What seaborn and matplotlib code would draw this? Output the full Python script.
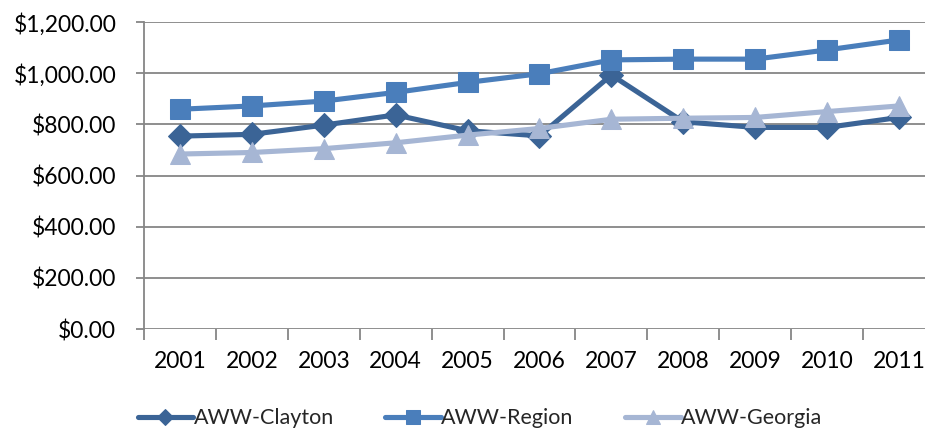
import matplotlib
matplotlib.use("Agg")
import matplotlib.pyplot as plt
import seaborn as sns
import pandas as pd
from matplotlib.ticker import FuncFormatter, FixedLocator

years = ["2001", "2002", "2003", "2004", "2005", "2006",
         "2007", "2008", "2009", "2010", "2011"]
aww_clayton = [754, 761, 797, 837, 775, 755, 993, 810, 788, 788, 827]
aww_region = [859, 872, 891, 925, 964, 998, 1052, 1055, 1055, 1091, 1130]
aww_georgia = [684, 690, 705, 728, 758, 784, 820, 824, 827, 850, 872]

series_names = ["AWW-Clayton", "AWW-Region", "AWW-Georgia"]
series_values = [aww_clayton, aww_region, aww_georgia]

rows = []
for name, vals in zip(series_names, series_values):
    for i, v in enumerate(vals):
        rows.append({"pos": i, "value": v, "series": name})
df = pd.DataFrame(rows)

sns.set_theme(style="white")
plt.rcParams["font.family"] = ["Lato", "DejaVu Sans"]

palette = {"AWW-Clayton": "#3B6496", "AWW-Region": "#4A7EBB", "AWW-Georgia": "#A6B6D4"}
markers = {"AWW-Clayton": "D", "AWW-Region": "s", "AWW-Georgia": "^"}
sizes = {"AWW-Clayton": 12.5, "AWW-Region": 14.5, "AWW-Georgia": 15}

fig = plt.figure(figsize=(9.25, 4.32), dpi=100)
ax = fig.add_axes([0.1557, 0.2384, 0.855, 0.7106])

for name in series_names:
    sub = df[df["series"] == name]
    sns.lineplot(data=sub, x="pos", y="value", ax=ax, color=palette[name],
                 marker=markers[name], markersize=sizes[name],
                 markeredgecolor=palette[name], linewidth=3.7,
                 label=name, legend=False)

ax.set_xlim(-0.5, 10.5)
ax.set_ylim(0, 1200)
ax.set_yticks(range(0, 1201, 200))
ax.yaxis.set_major_formatter(FuncFormatter(lambda v, p: f"${v:,.2f}"))
ax.set_xticks(range(len(years)))
ax.set_xticklabels(years)
ax.xaxis.set_minor_locator(FixedLocator([i - 0.5 for i in range(len(years) + 1)]))

ax.grid(axis="y", color="#868686", linewidth=1.3)
ax.set_axisbelow(True)
for s in ["top", "right", "bottom"]:
    ax.spines[s].set_visible(False)
ax.spines["left"].set_color("#868686")
ax.spines["left"].set_linewidth(1.3)

ax.tick_params(axis="y", which="major", left=True, length=6, width=1.3,
               color="#868686", labelsize=16.5, pad=14, labelcolor="black")
ax.tick_params(axis="x", which="major", bottom=False, labelsize=16.5, pad=10,
               labelcolor="black")
ax.tick_params(axis="x", which="minor", bottom=True, length=8, width=1.3,
               color="#868686")
ax.set_xlabel("")
ax.set_ylabel("")

handles, labels = ax.get_legend_handles_labels()
fig.legend(handles, labels, loc="center", bbox_to_anchor=(0.519, 0.032), ncol=3,
           frameon=False, fontsize=15.5, handlelength=2.6, handletextpad=0.0,
           columnspacing=2.4, markerscale=0.68)

fig.savefig("out.png", dpi=100)
